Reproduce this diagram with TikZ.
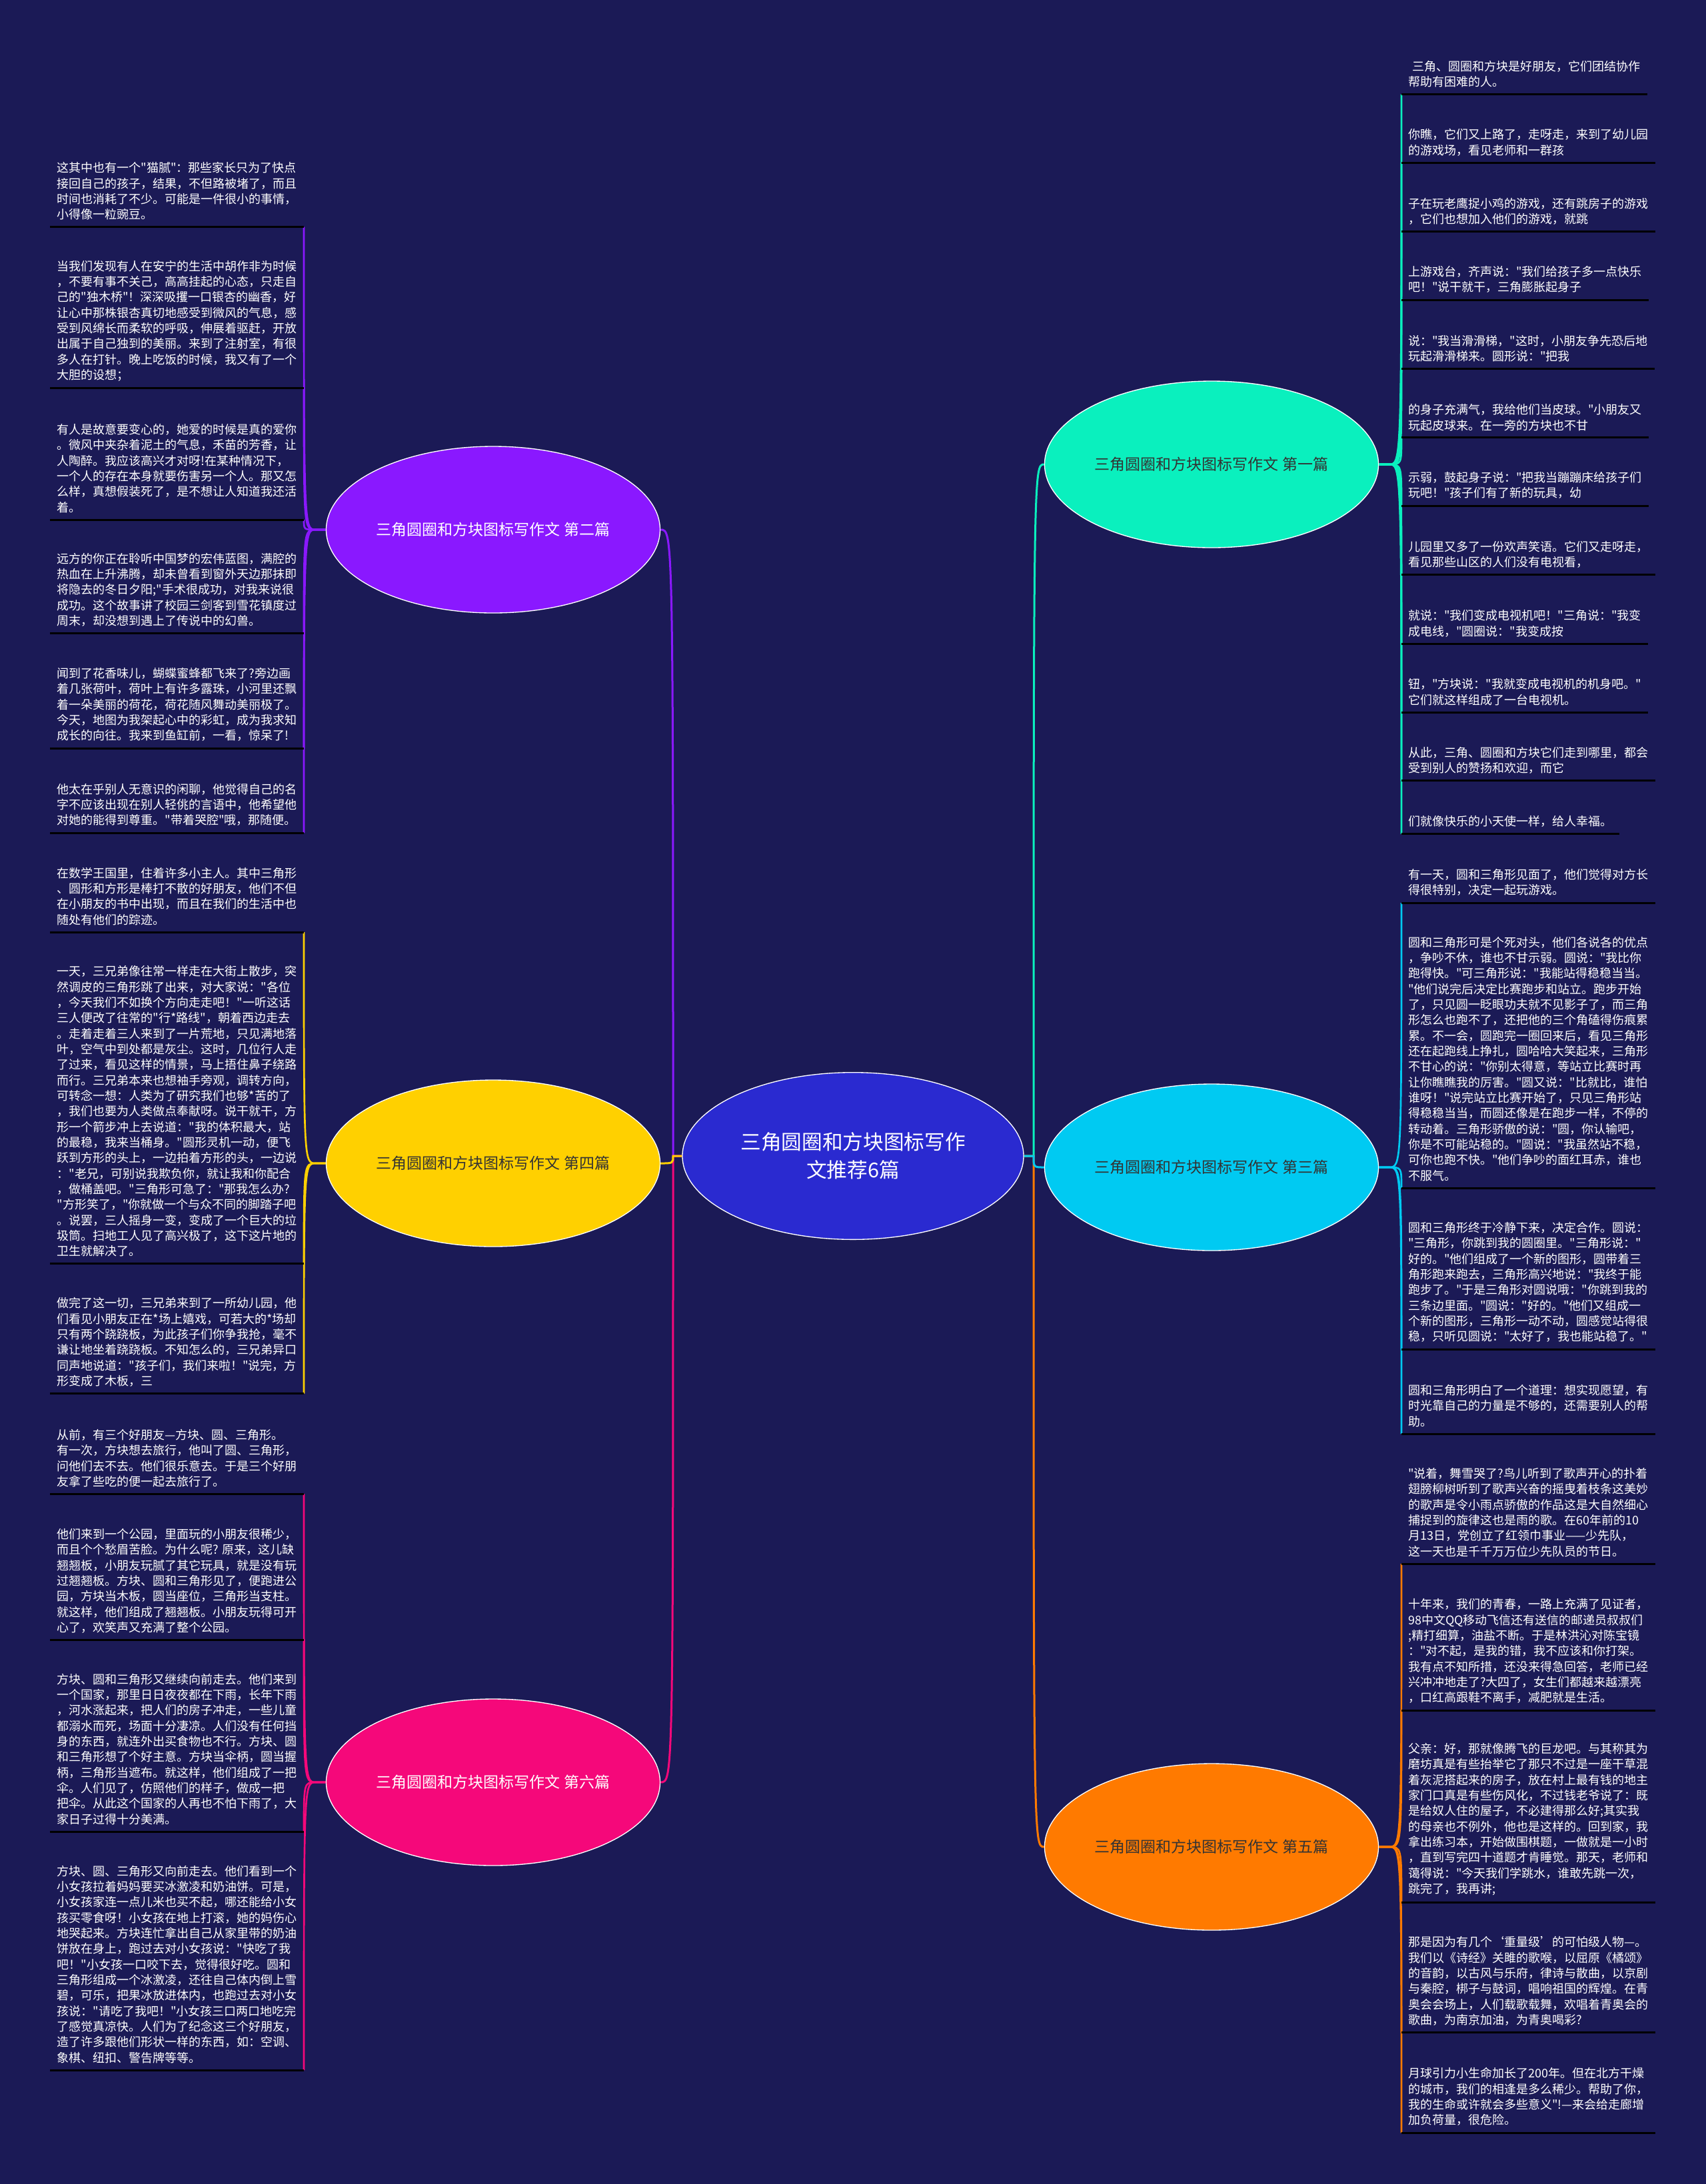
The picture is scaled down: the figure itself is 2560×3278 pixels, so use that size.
\documentclass[tikz,border=0pt]{standalone}
\usepackage{fontspec}
\newfontfamily\cjk{Noto Sans CJK SC}
\usetikzlibrary{shapes.geometric}
\pgfdeclarelayer{bgl}
\pgfdeclarelayer{back}
\pgfsetlayers{bgl,back,main}
\definecolor{bgc}{RGB}{27,26,86}
\definecolor{ccent}{RGB}{42,42,208}
\definecolor{cpurp}{RGB}{138,24,255}
\definecolor{cteal}{RGB}{10,240,190}
\definecolor{ccyan}{RGB}{0,202,242}
\definecolor{cyell}{RGB}{255,208,0}
\definecolor{cpink}{RGB}{245,8,122}
\definecolor{corng}{RGB}{255,122,0}
\definecolor{dtext}{RGB}{51,51,51}
\newcommand\leaffont{\cjk\fontsize{13.5pt}{17.5pt}\selectfont}
\newcommand\branchfont{\cjk\fontsize{17.25pt}{20pt}\selectfont}
\newcommand\centfont{\cjk\fontsize{23pt}{31.5pt}\selectfont}
\begin{document}
\begin{tikzpicture}[x=0.75pt,y=-0.75pt,
  leafbase/.style={font=\leaffont, text=white, align=left, inner xsep=7.5pt, inner ysep=7.5pt},
  leafL/.style={leafbase, anchor=south east},
  leafR/.style={leafbase, anchor=south west},
  uline/.style={draw=black, line width=2.25pt},
  conn/.style={line width=2pt},
  cconn/.style={line width=2.25pt},
  branch/.style={ellipse, draw=white, line width=1pt, minimum width=375.75pt, minimum height=187.5pt, inner sep=0pt, font=\branchfont},
  centnode/.style={ellipse, draw=white, line width=1pt, minimum width=384pt, minimum height=188pt, inner sep=0pt, font=\centfont, align=center, fill=ccent, text=white}]
\begin{pgfonlayer}{bgl}
\fill[bgc] (0,0) rectangle (2560,3278);
\end{pgfonlayer}
\useasboundingbox (0,0) rectangle (2560,3278);

% central and branch nodes
\node[centnode] (C) at (1280,1735) {三角圆圈和方块图标写作\\文推荐6篇};
\node[branch, fill=cteal, text=dtext] (B1) at (1818,697) {三角圆圈和方块图标写作文 第一篇};
\node[branch, fill=cpurp, text=white] (B2) at (740,795) {三角圆圈和方块图标写作文 第二篇};
\node[branch, fill=ccyan, text=dtext] (B3) at (1818,1752) {三角圆圈和方块图标写作文 第三篇};
\node[branch, fill=cyell, text=dtext] (B4) at (740,1746) {三角圆圈和方块图标写作文 第四篇};
\node[branch, fill=corng, text=dtext] (B5) at (1818,2772) {三角圆圈和方块图标写作文 第五篇};
\node[branch, fill=cpink, text=white] (B6) at (740,2675) {三角圆圈和方块图标写作文 第六篇};

\coordinate (cl) at (1010,1735);
\coordinate (cr) at (1551,1735);
\coordinate (h1) at (2084,697);
\coordinate (h2) at (474,795);
\coordinate (h3) at (2084,1752);
\coordinate (h4) at (474,1746);
\coordinate (h5) at (2084,2772);
\coordinate (h6) at (474,2675);

% left leaves
\node[leafL] (L1) at (456,340.5) {这其中也有一个"猫腻"：那些家长只为了快点\\接回自己的孩子，结果，不但路被堵了，而且\\时间也消耗了不少。可能是一件很小的事情，\\小得像一粒豌豆。};
\node[leafL] (L2) at (456,582.8) {当我们发现有人在安宁的生活中胡作非为时候\\，不要有事不关己，高高挂起的心态，只走自\\己的"独木桥"！深深吸攫一口银杏的幽香，好\\让心中那株银杏真切地感受到微风的气息，感\\受到风绵长而柔软的呼吸，伸展着驱赶，开放\\出属于自己独到的美丽。来到了注射室，有很\\多人在打针。晚上吃饭的时候，我又有了一个\\大胆的设想；};
\node[leafL] (L3) at (456,780) {有人是故意要变心的，她爱的时候是真的爱你\\。微风中夹杂着泥土的气息，禾苗的芳香，让\\人陶醉。我应该高兴才对呀!在某种情况下，\\一个人的存在本身就要伤害另一个人。那又怎\\么样，真想假装死了，是不想让人知道我还活\\着。};
\node[leafL] (L4) at (456,950.7) {远方的你正在聆听中国梦的宏伟蓝图，满腔的\\热血在上升沸腾，却未曾看到窗外天边那抹即\\将隐去的冬日夕阳;"手术很成功，对我来说很\\成功。这个故事讲了校园三剑客到雪花镇度过\\周末，却没想到遇上了传说中的幻兽。};
\node[leafL] (L5) at (456,1123) {闻到了花香味儿，蝴蝶蜜蜂都飞来了?旁边画\\着几张荷叶，荷叶上有许多露珠，小河里还飘\\着一朵美丽的荷花，荷花随风舞动美丽极了。\\今天，地图为我架起心中的彩虹，成为我求知\\成长的向往。我来到鱼缸前，一看，惊呆了!};
\node[leafL] (L6) at (456,1250) {他太在乎别人无意识的闲聊，他觉得自己的名\\字不应该出现在别人轻佻的言语中，他希望他\\对她的能得到尊重。"带着哭腔"哦，那随便。};
\node[leafL] (L7) at (456,1399) {在数学王国里，住着许多小主人。其中三角形\\、圆形和方形是棒打不散的好朋友，他们不但\\在小朋友的书中出现，而且在我们的生活中也\\随处有他们的踪迹。};
\node[leafL] (L8) at (456,1896.7) {一天，三兄弟像往常一样走在大街上散步，突\\然调皮的三角形跳了出来，对大家说："各位\\，今天我们不如换个方向走走吧！"一听这话\\三人便改了往常的"行*路线"，朝着西边走去\\。走着走着三人来到了一片荒地，只见满地落\\叶，空气中到处都是灰尘。这时，几位行人走\\了过来，看见这样的情景，马上捂住鼻子绕路\\而行。三兄弟本来也想袖手旁观，调转方向，\\可转念一想：人类为了研究我们也够*苦的了\\，我们也要为人类做点奉献呀。说干就干，方\\形一个箭步冲上去说道："我的体积最大，站\\的最稳，我来当桶身。"圆形灵机一动，便飞\\跃到方形的头上，一边拍着方形的头，一边说\\："老兄，可别说我欺负你，就让我和你配合\\，做桶盖吧。"三角形可急了："那我怎么办?\\"方形笑了，"你就做一个与众不同的脚踏子吧\\。说罢，三人摇身一变，变成了一个巨大的垃\\圾筒。扫地工人见了高兴极了，这下这片地的\\卫生就解决了。};
\node[leafL] (L9) at (456,2091.7) {做完了这一切，三兄弟来到了一所幼儿园，他\\们看见小朋友正在*场上嬉戏，可若大的*场却\\只有两个跷跷板，为此孩子们你争我抢，毫不\\谦让地坐着跷跷板。不知怎么的，三兄弟异口\\同声地说道："孩子们，我们来啦！"说完，方\\形变成了木板，三};
\node[leafL] (L10) at (456,2242.3) {从前，有三个好朋友—方块、圆、三角形。\\有一次，方块想去旅行，他叫了圆、三角形，\\问他们去不去。他们很乐意去。于是三个好朋\\友拿了些吃的便一起去旅行了。};
\node[leafL] (L11) at (456,2461.7) {他们来到一个公园，里面玩的小朋友很稀少，\\而且个个愁眉苦脸。为什么呢? 原来，这儿缺\\翘翘板，小朋友玩腻了其它玩具，就是没有玩\\过翘翘板。方块、圆和三角形见了，便跑进公\\园，方块当木板，圆当座位，三角形当支柱。\\就这样，他们组成了翘翘板。小朋友玩得可开\\心了，欢笑声又充满了整个公园。};
\node[leafL] (L12) at (456,2749) {方块、圆和三角形又继续向前走去。他们来到\\一个国家，那里日日夜夜都在下雨，长年下雨\\，河水涨起来，把人们的房子冲走，一些儿童\\都溺水而死，场面十分凄凉。人们没有任何挡\\身的东西，就连外出买食物也不行。方块、圆\\和三角形想了个好主意。方块当伞柄，圆当握\\柄，三角形当遮布。就这样，他们组成了一把\\伞。人们见了，仿照他们的样子，做成一把\\把伞。从此这个国家的人再也不怕下雨了，大\\家日子过得十分美满。};
\node[leafL] (L13) at (456,3107) {方块、圆、三角形又向前走去。他们看到一个\\小女孩拉着妈妈要买冰激凌和奶油饼。可是，\\小女孩家连一点儿米也买不起，哪还能给小女\\孩买零食呀！小女孩在地上打滚，她的妈伤心\\地哭起来。方块连忙拿出自己从家里带的奶油\\饼放在身上，跑过去对小女孩说："快吃了我\\吧！"小女孩一口咬下去，觉得很好吃。圆和\\三角形组成一个冰激凌，还往自己体内倒上雪\\碧，可乐，把果冰放进体内，也跑过去对小女\\孩说："请吃了我吧！"小女孩三口两口地吃完\\了感觉真凉快。人们为了纪念这三个好朋友，\\造了许多跟他们形状一样的东西，如：空调、\\象棋、纽扣、警告牌等等。};

% right leaves
\node[leafR] (R1) at (2103,141.5) {\hspace*{4.5pt}三角、圆圈和方块是好朋友，它们团结协作\\帮助有困难的人。};
\node[leafR] (R2) at (2103,244.2) {你瞧，它们又上路了，走呀走，来到了幼儿园\\的游戏场，看见老师和一群孩};
\node[leafR] (R3) at (2103,347.6) {子在玩老鹰捉小鸡的游戏，还有跳房子的游戏\\，它们也想加入他们的游戏，就跳};
\node[leafR] (R4) at (2103,450) {上游戏台，齐声说："我们给孩子多一点快乐\\吧！"说干就干，三角膨胀起身子};
\node[leafR] (R5) at (2103,553.4) {说："我当滑滑梯，"这时，小朋友争先恐后地\\玩起滑滑梯来。圆形说："把我};
\node[leafR] (R6) at (2103,656.9) {的身子充满气，我给他们当皮球。"小朋友又\\玩起皮球来。在一旁的方块也不甘};
\node[leafR] (R7) at (2103,759) {示弱，鼓起身子说："把我当蹦蹦床给孩子们\\玩吧！"孩子们有了新的玩具，幼};
\node[leafR] (R8) at (2103,862.7) {儿园里又多了一份欢声笑语。它们又走呀走，\\看见那些山区的人们没有电视看，};
\node[leafR] (R9) at (2103,966.3) {就说："我们变成电视机吧！"三角说："我变\\成电线，"圆圈说："我变成按};
\node[leafR] (R10) at (2103,1069) {钮，"方块说："我就变成电视机的机身吧。"\\它们就这样组成了一台电视机。};
\node[leafR] (R11) at (2103,1171.6) {从此，三角、圆圈和方块它们走到哪里，都会\\受到别人的赞扬和欢迎，而它};
\node[leafR] (R12) at (2103,1251.6) {们就像快乐的小天使一样，给人幸福。};
\node[leafR] (R13) at (2103,1355) {有一天，圆和三角形见面了，他们觉得对方长\\得很特别，决定一起玩游戏。};
\node[leafR] (R14) at (2103,1783) {圆和三角形可是个死对头，他们各说各的优点\\，争吵不休，谁也不甘示弱。圆说："我比你\\跑得快。"可三角形说："我能站得稳稳当当。\\"他们说完后决定比赛跑步和站立。跑步开始\\了，只见圆一眨眼功夫就不见影子了，而三角\\形怎么也跑不了，还把他的三个角磕得伤痕累\\累。不一会，圆跑完一圈回来后，看见三角形\\还在起跑线上挣扎，圆哈哈大笑起来，三角形\\不甘心的说："你别太得意，等站立比赛时再\\让你瞧瞧我的厉害。"圆又说："比就比，谁怕\\谁呀！"说完站立比赛开始了，只见三角形站\\得稳稳当当，而圆还像是在跑步一样，不停的\\转动着。三角形骄傲的说："圆，你认输吧，\\你是不可能站稳的。"圆说："我虽然站不稳，\\可你也跑不快。"他们争吵的面红耳赤，谁也\\不服气。};
\node[leafR] (R15) at (2103,2025) {圆和三角形终于冷静下来，决定合作。圆说：\\"三角形，你跳到我的圆圈里。"三角形说："\\好的。"他们组成了一个新的图形，圆带着三\\角形跑来跑去，三角形高兴地说："我终于能\\跑步了。"于是三角形对圆说哦："你跳到我的\\三条边里面。"圆说："好的。"他们又组成一\\个新的图形，三角形一动不动，圆感觉站得很\\稳，只听见圆说："太好了，我也能站稳了。"};
\node[leafR] (R16) at (2103,2152) {圆和三角形明白了一个道理：想实现愿望，有\\时光靠自己的力量是不够的，还需要别人的帮\\助。};
\node[leafR] (R17) at (2103,2347) {"说着，舞雪哭了?鸟儿听到了歌声开心的扑着\\翅膀柳树听到了歌声兴奋的摇曳着枝条这美妙\\的歌声是令小雨点骄傲的作品这是大自然细心\\捕捉到的旋律这也是雨的歌。在60年前的10\\月13日，党创立了红领巾事业——少先队，\\这一天也是千千万万位少先队员的节日。};
\node[leafR] (R18) at (2103,2567) {十年来，我们的青春，一路上充满了见证者，\\98中文QQ移动飞信还有送信的邮递员叔叔们\\;精打细算，油盐不断。于是林洪沁对陈宝镜\\："对不起，是我的错，我不应该和你打架。\\我有点不知所措，还没来得急回答，老师已经\\兴冲冲地走了?大四了，女生们都越来越漂亮\\，口红高跟鞋不离手，减肥就是生活。};
\node[leafR] (R19) at (2103,2855) {父亲：好，那就像腾飞的巨龙吧。与其称其为\\磨坊真是有些抬举它了那只不过是一座干草混\\着灰泥搭起来的房子，放在村上最有钱的地主\\家门口真是有些伤风化，不过钱老爷说了：既\\是给奴人住的屋子，不必建得那么好;其实我\\的母亲也不例外，他也是这样的。回到家，我\\拿出练习本，开始做围棋题，一做就是一小时\\，直到写完四十道题才肯睡觉。那天，老师和\\蔼得说："今天我们学跳水，谁敢先跳一次，\\跳完了，我再讲;};
\node[leafR] (R20) at (2103,3050.5) {那是因为有几个‘重量级’的可怕级人物—。\\我们以《诗经》关雎的歌喉，以屈原《橘颂》\\的音韵，以古风与乐府，律诗与散曲，以京剧\\与秦腔，梆子与鼓词，唱响祖国的辉煌。在青\\奥会会场上，人们载歌载舞，欢唱着青奥会的\\歌曲，为南京加油，为青奥喝彩?};
\node[leafR] (R21) at (2103,3201) {月球引力小生命加长了200年。但在北方干燥\\的城市，我们的相逢是多么稀少。帮助了你，\\我的生命或许就会多些意义"!—来会给走廊增\\加负荷量，很危险。};

% underlines
\foreach \i in {1,...,13} \draw[uline] (L\i.south west) -- (L\i.south east);
\foreach \i in {1,...,21} \draw[uline] (R\i.south west) -- (R\i.south east);

\begin{pgfonlayer}{back}
% central connectors
\draw[cconn, cpurp] (C.west) -- (cl) .. controls (cl |- B2.east) .. (B2.east);
\draw[cconn, cpink] (C.west) -- (cl) .. controls (cl |- B6.east) .. (B6.east);
\draw[cconn, cyell] (C.west) -- (cl) .. controls (cl |- B4.east) .. (B4.east);
\draw[cconn, cteal] (C.east) -- (cr) .. controls (cr |- B1.west) .. (B1.west);
\draw[cconn, corng] (C.east) -- (cr) .. controls (cr |- B5.west) .. (B5.west);
\draw[cconn, ccyan] (C.east) -- (cr) .. controls (cr |- B3.west) .. (B3.west);
% leaf connectors
\foreach \i in {1,...,6} \draw[conn, cpurp] (B2.west) -- (h2) .. controls (L\i.south east |- h2) .. (L\i.south east);
\foreach \i in {7,8,9} \draw[conn, cyell] (B4.west) -- (h4) .. controls (L\i.south east |- h4) .. (L\i.south east);
\foreach \i in {10,...,13} \draw[conn, cpink] (B6.west) -- (h6) .. controls (L\i.south east |- h6) .. (L\i.south east);
\foreach \i in {1,...,12} \draw[conn, cteal] (B1.east) -- (h1) .. controls (R\i.south west |- h1) .. (R\i.south west);
\foreach \i in {13,...,16} \draw[conn, ccyan] (B3.east) -- (h3) .. controls (R\i.south west |- h3) .. (R\i.south west);
\foreach \i in {17,...,21} \draw[conn, corng] (B5.east) -- (h5) .. controls (R\i.south west |- h5) .. (R\i.south west);
\end{pgfonlayer}
\end{tikzpicture}
\end{document}
